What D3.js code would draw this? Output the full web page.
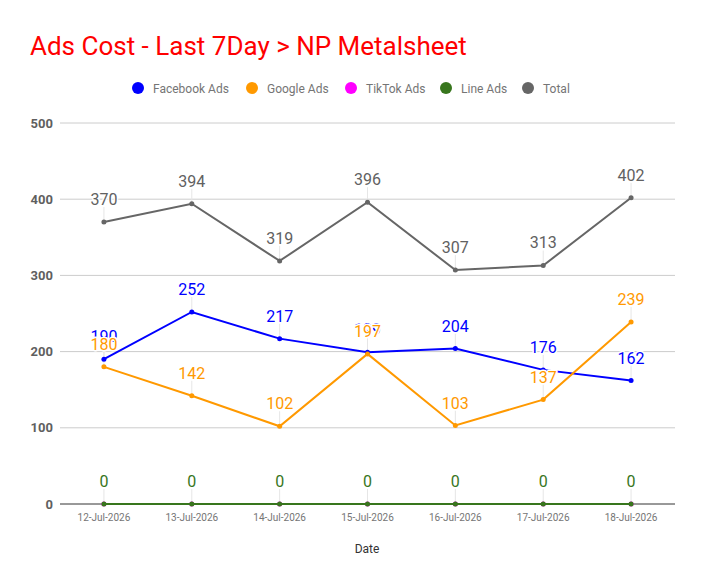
<!DOCTYPE html>
<html>
<head>
    <meta charset="UTF-8">
    <title>Ads Cost</title>
    <script src="https://cdn.jsdelivr.net/npm/d3@7"></script>
    <style>
        body { margin: 0; background: #fff; font-family: Roboto, "Noto Sans", sans-serif; }
        .dlabel { paint-order: stroke; stroke: #ffffff; stroke-width: 3px; stroke-linejoin: round; }
    </style>
</head>
<body>
<div id="chart"></div>
<script>
// chart data
var dates = ["12-Jul-2026", "13-Jul-2026", "14-Jul-2026", "15-Jul-2026", "16-Jul-2026", "17-Jul-2026", "18-Jul-2026"];
var facebookAds = [190, 252, 217, 199, 204, 176, 162];
var googleAds = [180, 142, 102, 197, 103, 137, 239];
var tiktokAds = [0, 0, 0, 0, 0, 0, 0];
var lineAds = [0, 0, 0, 0, 0, 0, 0];
var total = [370, 394, 319, 396, 307, 313, 402];
var yTicks = [0, 100, 200, 300, 400, 500];

var seriesNames = ["Facebook Ads", "Google Ads", "TikTok Ads", "Line Ads", "Total"];
var seriesValues = [facebookAds, googleAds, tiktokAds, lineAds, total];
var seriesColors = ["#0000ff", "#ff9900", "#ff00ff", "#38761d", "#666666"];
var labelColors = ["#0000ff", "#ff9900", "#ff00ff", "#38761d", "#616161"];
// TikTok shows no labels in the original
var showLabels = [true, true, false, true, true];

var width = 704, height = 585;
var margin = {left: 60, right: 29, top: 123, bottom: 81};

var svg = d3.select("#chart").append("svg")
    .attr("width", width)
    .attr("height", height);

// title
svg.append("text")
    .attr("x", 30)
    .attr("y", 55)
    .attr("fill", "#ff0000")
    .style("font-size", "26px")
    .text("Ads Cost - Last 7Day > NP Metalsheet");

// legend
var legendX = [138, 252, 351, 446, 528];
var legend = svg.selectAll(".legend")
    .data(seriesNames).enter()
    .append("g")
    .attr("transform", function(d, i) { return "translate(" + legendX[i] + ",88)"; });
legend.append("circle")
    .attr("r", 6)
    .attr("fill", function(d, i) { return seriesColors[i]; });
legend.append("text")
    .attr("x", 15)
    .attr("y", 4.5)
    .attr("fill", "#757575")
    .style("font-size", "12px")
    .text(function(d) { return d; });

var x = d3.scalePoint()
    .domain(dates)
    .range([margin.left, width - margin.right])
    .padding(0.5);

var y = d3.scaleLinear()
    .domain([0, 500])
    .range([height - margin.bottom, margin.top]);

// gridlines
svg.selectAll(".grid")
    .data(yTicks.slice(1)).enter()
    .append("line")
    .attr("x1", margin.left)
    .attr("x2", width - margin.right)
    .attr("y1", function(d) { return y(d); })
    .attr("y2", function(d) { return y(d); })
    .attr("stroke", "#cccccc")
    .attr("stroke-width", 1);

// y axis labels
svg.selectAll(".ylab")
    .data(yTicks).enter()
    .append("text")
    .attr("x", 53)
    .attr("y", function(d) { return y(d) + 4.5; })
    .attr("text-anchor", "end")
    .attr("fill", "#5f5f5f")
    .style("font-size", "13px")
    .style("font-weight", "bold")
    .text(function(d) { return d; });

// x axis labels
svg.selectAll(".xlab")
    .data(dates).enter()
    .append("text")
    .attr("x", function(d) { return x(d); })
    .attr("y", 521)
    .attr("text-anchor", "middle")
    .attr("fill", "#757575")
    .style("font-size", "10px")
    .text(function(d) { return d; });

svg.append("text")
    .attr("x", 367)
    .attr("y", 553)
    .attr("text-anchor", "middle")
    .attr("fill", "#333333")
    .style("font-size", "12px")
    .text("Date");

// leader lines for data labels
seriesValues.forEach(function(vals, s) {
    if (!showLabels[s]) return;
    svg.selectAll(null)
        .data(vals).enter()
        .append("line")
        .attr("x1", function(d, i) { return x(dates[i]); })
        .attr("x2", function(d, i) { return x(dates[i]); })
        .attr("y1", function(d) { return y(d); })
        .attr("y2", function(d) { return y(d) - 15; })
        .attr("stroke", "#e6e6e6")
        .attr("stroke-width", 1);
});

// baseline
svg.append("line")
    .attr("x1", margin.left)
    .attr("x2", width - margin.right)
    .attr("y1", y(0))
    .attr("y2", y(0))
    .attr("stroke", "#333333")
    .attr("stroke-width", 1);

var line = d3.line()
    .x(function(d, i) { return x(dates[i]); })
    .y(function(d) { return y(d); });

// lines and points
seriesValues.forEach(function(vals, s) {
    svg.append("path")
        .datum(vals)
        .attr("d", line)
        .attr("fill", "none")
        .attr("stroke", seriesColors[s])
        .attr("stroke-width", 2);
    svg.selectAll(null)
        .data(vals).enter()
        .append("circle")
        .attr("cx", function(d, i) { return x(dates[i]); })
        .attr("cy", function(d) { return y(d); })
        .attr("r", 2.5)
        .attr("fill", seriesColors[s]);
});

// data labels
seriesValues.forEach(function(vals, s) {
    if (!showLabels[s]) return;
    svg.selectAll(null)
        .data(vals).enter()
        .append("text")
        .attr("class", "dlabel")
        .attr("x", function(d, i) { return x(dates[i]); })
        .attr("y", function(d) { return y(d) - 17; })
        .attr("text-anchor", "middle")
        .attr("fill", labelColors[s])
        .style("font-size", "16px")
        .text(function(d) { return d; });
});
</script>
</body>
</html>
